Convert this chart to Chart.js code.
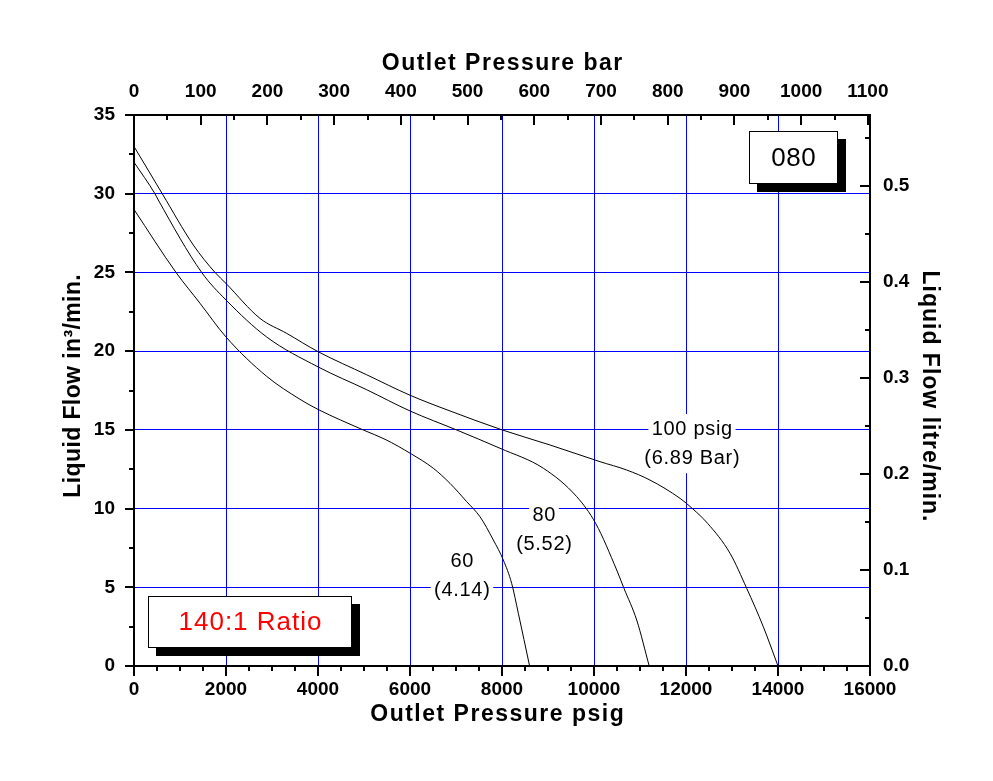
<!DOCTYPE html>
<html><head><meta charset="utf-8">
<script src="https://cdn.jsdelivr.net/npm/chart.js@4.4.0/dist/chart.umd.min.js"></script>
<style>html,body{margin:0;padding:0;background:#fff;}#wrap{width:993px;height:781px;}</style>
</head><body><div id="wrap"><canvas id="c" width="993" height="781"></canvas></div>
<script>
// ---- data ----
const psig100 = [0, 614, 1290, 1761, 2000, 2739, 3319, 4000, 5058, 6000, 6870, 8000, 9043, 10130, 10710, 11217, 11870, 12140, 12470, 12957, 13320, 13680, 14000];
const flow100 = [33.0, 30.0, 26.74, 25.0, 24.3, 22.08, 21.13, 19.97, 18.5, 17.2, 16.2, 15.0, 14.04, 12.98, 12.45, 11.81, 10.65, 10.0, 9.06, 7.16, 4.93, 2.5, 0];
const psig80 = [0, 455, 528, 1471, 2000, 2884, 4000, 5058, 6000, 7015, 7957, 8899, 9623, 10036, 10493, 10652, 10928, 11200];
const flow80 = [32.0, 30.0, 29.6, 25.0, 23.25, 20.9, 19.0, 17.55, 16.2, 14.99, 13.83, 12.56, 10.76, 9.06, 6.1, 4.93, 2.92, 0];
const psig60 = [0, 913, 1435, 2000, 2884, 3609, 4000, 4986, 5457, 6029, 6507, 6870, 7232, 7522, 7812, 8029, 8210, 8355, 8600];
const flow60 = [29.0, 25.0, 23.04, 20.9, 18.4, 16.94, 16.3, 14.99, 14.4, 13.47, 12.56, 11.6, 10.44, 9.48, 8.0, 6.73, 5.25, 3.35, 0];

const seriesLabels = [["100 psig", "(6.89 Bar)"], ["80", "(5.52)"], ["60", "(4.14)"]];
const seriesLabelAnchors = [[12130, 15.05, 13.2], [8913, 9.53, 7.75], [7130, 6.63, 4.78]]; // psig, flow line1, flow line2
const modelText = "080";
const ratioText = "140:1 Ratio";

const xMin = 0, xMax = 16000, xStep = 2000, xMinor = 500;
const yMin = 0, yMax = 35, yStep = 5, yMinor = 2.5;
const PSI_PER_BAR = 14.5038;
const LPM_PER_CIPM = 0.0163871;
const barTicks = [0, 100, 200, 300, 400, 500, 600, 700, 800, 900, 1000, 1100];
const barStep = 100, barMinor = 50;
const lpmTicks = [0.0, 0.1, 0.2, 0.3, 0.4, 0.5];
const lpmMinor = 0.05;

const xTitleBottom = "Outlet Pressure psig";
const xTitleTop = "Outlet Pressure bar";
const yTitleLeft = "Liquid Flow in\u00B3/min.";
const yTitleRight = "Liquid Flow litre/min.";

function pts(xs, ys){ return xs.map((x,i)=>({x:x, y:ys[i]})); }

const FONT = "'Liberation Sans', Arial, sans-serif";

function drawSpaced(ctx, text, x, y, spacing){
  ctx.letterSpacing = spacing + 'px';
  ctx.fillText(text, x + spacing/2, y);
  ctx.letterSpacing = '0px';
}

const extras = {
  id: 'extras',
  afterDraw(chart){
    const ctx = chart.ctx, a = chart.chartArea;
    const sx = chart.scales.x, sy = chart.scales.y, sx2 = chart.scales.x2, sy2 = chart.scales.y2;
    ctx.save();
    ctx.strokeStyle = '#000'; ctx.lineWidth = 2; ctx.lineCap = 'butt';
    const line = (x1,y1,x2,y2)=>{ctx.beginPath();ctx.moveTo(x1,y1);ctx.lineTo(x2,y2);ctx.stroke();};
    const eps = 1e-6;
    // bottom ticks (outside)
    for (let v = xMin; v <= xMax + eps; v += xMinor){
      const p = Math.round(sx.getPixelForValue(v));
      const major = Math.abs(v/xStep - Math.round(v/xStep)) < eps;
      line(p, a.bottom, p, a.bottom + (major ? 10 : 5));
    }
    // top ticks (inside)
    for (let v = 0; v <= sx2.max + eps; v += barMinor){
      const p = Math.round(sx2.getPixelForValue(v));
      const major = Math.abs(v/barStep - Math.round(v/barStep)) < eps;
      line(p, a.top, p, a.top + (major ? 10 : 5));
    }
    // left ticks (outside)
    for (let v = yMin; v <= yMax + eps; v += yMinor){
      const p = Math.round(sy.getPixelForValue(v));
      const major = Math.abs(v/yStep - Math.round(v/yStep)) < eps;
      line(a.left, p, a.left - (major ? 9 : 5), p);
    }
    // right ticks (inside)
    for (let i = 0; i * lpmMinor <= sy2.max + eps; i++){
      const v = i * lpmMinor;
      const p = Math.round(sy2.getPixelForValue(v));
      const major = i % 2 === 0;
      line(a.right, p, a.right - (major ? 10 : 5), p);
    }

    // series labels with white backgrounds
    ctx.font = '20px ' + FONT;
    ctx.textAlign = 'center'; ctx.textBaseline = 'middle';
    seriesLabels.forEach((lines, i)=>{
      const [px, f1, f2] = seriesLabelAnchors[i];
      const cx = sx.getPixelForValue(px);
      [f1, f2].forEach((f, j)=>{
        const cy = sy.getPixelForValue(f);
        ctx.letterSpacing = '0.7px';
        const w = ctx.measureText(lines[j]).width;
        ctx.fillStyle = '#fff';
        ctx.fillRect(cx - w/2 - 3, cy - 15, w + 6, 30);
      });
      [f1, f2].forEach((f, j)=>{
        const cy = sy.getPixelForValue(f);
        ctx.fillStyle = '#000';
        ctx.letterSpacing = '0.7px';
        ctx.fillText(lines[j], cx + 0.35, cy);
      });
    });
    ctx.letterSpacing = '0px';

    // boxes with shadow
    function box(x1v, x2v, y1v, y2v, text, color, size, spacing){
      const x1 = Math.round(sx.getPixelForValue(x1v)), x2 = Math.round(sx.getPixelForValue(x2v));
      const y1 = Math.round(sy.getPixelForValue(y1v)), y2 = Math.round(sy.getPixelForValue(y2v));
      ctx.fillStyle = '#000';
      ctx.fillRect(x1 + 8, y1 + 8, x2 - x1, y2 - y1);
      ctx.fillStyle = '#fff';
      ctx.fillRect(x1, y1, x2 - x1, y2 - y1);
      ctx.lineWidth = 1; ctx.strokeStyle = '#000';
      ctx.strokeRect(x1 + 0.5, y1 + 0.5, x2 - x1 - 1, y2 - y1 - 1);
      ctx.fillStyle = color;
      ctx.font = size + 'px ' + FONT;
      ctx.textAlign = 'center'; ctx.textBaseline = 'middle';
      drawSpaced(ctx, text, (x1 + x2)/2, (y1 + y2)/2 + 1, spacing);
    }
    box(13370, 15304, 33.98, 30.61, modelText, '#000', 26, 0.5);
    box(304, 4739, 4.45, 1.14, ratioText, '#ff0000', 26, 1);

    // axis titles
    ctx.fillStyle = '#000';
    ctx.font = 'bold 23px ' + FONT;
    ctx.textAlign = 'center'; ctx.textBaseline = 'middle';
    drawSpaced(ctx, xTitleTop, 502, 64, 1.5);
    drawSpaced(ctx, xTitleBottom, 497, 715, 1.5);
    ctx.save(); ctx.translate(74, 386); ctx.rotate(-Math.PI/2);
    drawSpaced(ctx, yTitleLeft, 0, 0, 0.4);
    ctx.restore();
    ctx.save(); ctx.translate(929, 396); ctx.rotate(Math.PI/2);
    drawSpaced(ctx, yTitleRight, 0, 0, 1);
    ctx.restore();
    ctx.restore();
  }
};

const tickFont = {family: FONT, size: 19, weight: 'bold'};
const ds = (d)=>({data: d, borderColor: '#000', borderWidth: 1, pointRadius: 0, fill: false, cubicInterpolationMode: 'monotone', xAxisID: 'x', yAxisID: 'y'});

new Chart(document.getElementById('c'), {
  type: 'line',
  data: { datasets: [ds(pts(psig100, flow100)), ds(pts(psig80, flow80)), ds(pts(psig60, flow60))] },
  options: {
    responsive: false, animation: false, devicePixelRatio: 1,
    layout: {padding: 0},
    plugins: {legend: {display: false}, tooltip: {enabled: false}},
    scales: {
      x: {type: 'linear', position: 'bottom', min: xMin, max: xMax,
          ticks: {stepSize: xStep, font: tickFont, color: '#000', padding: 12, maxRotation: 0, autoSkip: false, callback: v => String(v)},
          grid: {color: '#0000ff', lineWidth: 1, drawTicks: false},
          border: {display: true, color: '#000', width: 2},
          afterFit: s => { s.height = 115; }},
      x2: {type: 'linear', position: 'top', min: 0, max: xMax / PSI_PER_BAR,
          ticks: {font: tickFont, color: '#000', padding: 12, maxRotation: 0, autoSkip: false, callback: v => String(v)},
          afterBuildTicks: s => { s.ticks = barTicks.map(v => ({value: v})); },
          grid: {display: false, drawTicks: false},
          border: {display: true, color: '#000', width: 2},
          afterFit: s => { s.height = 115; }},
      y: {type: 'linear', position: 'left', min: yMin, max: yMax,
          ticks: {stepSize: yStep, font: tickFont, color: '#000', padding: 19, callback: v => String(v)},
          grid: {color: '#0000ff', lineWidth: 1, drawTicks: false},
          border: {display: true, color: '#000', width: 2},
          afterFit: s => { s.width = 134; }},
      y2: {type: 'linear', position: 'right', min: 0, max: yMax * LPM_PER_CIPM,
          ticks: {font: tickFont, color: '#000', padding: 13, callback: v => v.toFixed(1)},
          afterBuildTicks: s => { s.ticks = lpmTicks.map(v => ({value: v})); },
          grid: {display: false, drawTicks: false},
          border: {display: true, color: '#000', width: 2},
          afterFit: s => { s.width = 123; }}
    }
  },
  plugins: [extras]
});
</script>
</body></html>
